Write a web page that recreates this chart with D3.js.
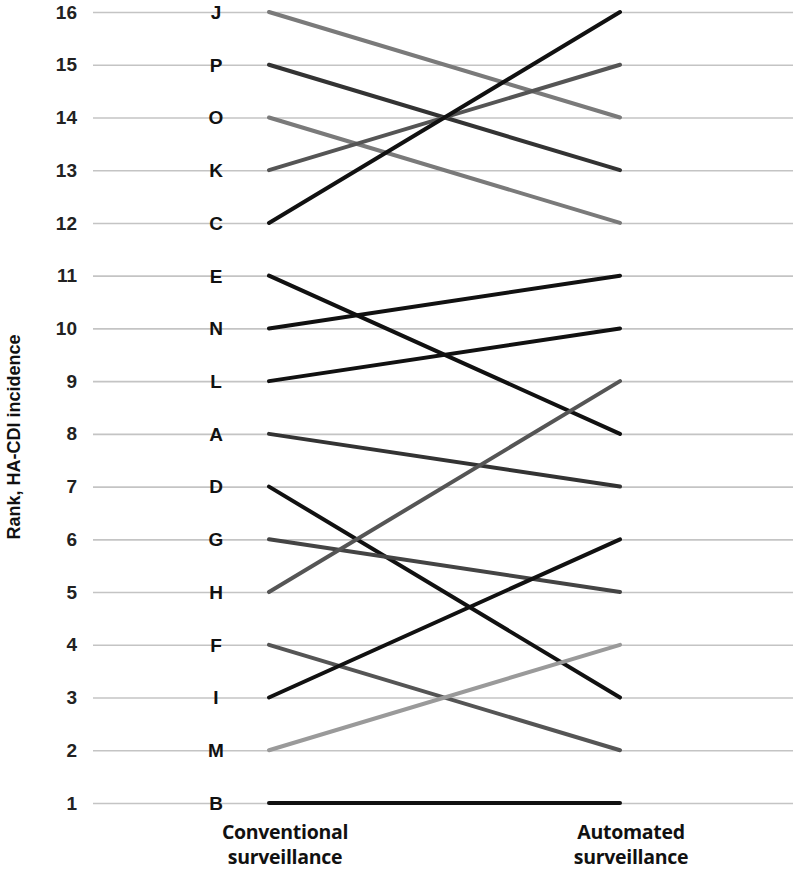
<!DOCTYPE html>
<html>
<head>
<meta charset="utf-8">
<script src="https://cdn.jsdelivr.net/npm/d3@7"></script>
<style>
  body { margin: 0; background: #fff; }
  .tick text { font-family: "Liberation Sans", Arial, sans-serif; font-weight: bold; }
  .lbl { font-family: "Open Sans", sans-serif; font-weight: bold; }
</style>
</head>
<body>
<script>
// units, ranked under the two methods
const units = ['J', 'P', 'O', 'K', 'C', 'E', 'N', 'L', 'A', 'D', 'G', 'H', 'F', 'I', 'M', 'B'];
const rankConventional = [16, 15, 14, 13, 12, 11, 10, 9, 8, 7, 6, 5, 4, 3, 2, 1];
const rankAutomated = [14, 13, 12, 15, 16, 8, 11, 10, 7, 3, 5, 9, 2, 6, 4, 1];
const lineShade = ['#7a7a7a', '#333', '#7a7a7a', '#555', '#111', '#111', '#111', '#111', '#333', '#111', '#444', '#555', '#555', '#111', '#9a9a9a', '#111'];
const methods = ['Conventional surveillance', 'Automated surveillance'];
const rankTicks = d3.range(1, 17);

const W = 793, H = 869;
const svg = d3.select('body').append('svg')
  .attr('width', W).attr('height', H);

// y scale: rank 16 on top
const y = d3.scaleLinear().domain([1, 16]).range([803, 12]);
const x = d3.scalePoint().domain(methods).range([269, 620]);

// gridlines
svg.append('g')
  .attr('transform', 'translate(93,0)')
  .call(d3.axisLeft(y).tickValues(rankTicks).tickFormat(d3.format('d'))
    .tickSize(-(W - 93)).tickPadding(16))
  .call(g => g.select('.domain').remove())
  .call(g => g.selectAll('.tick line').attr('stroke', '#c4c4c4').attr('stroke-width', 1.6))
  .call(g => g.selectAll('.tick text').style('font-size', '19px').attr('fill', '#222'));

// unit letters
svg.append('g').selectAll('text')
  .data(units)
  .join('text')
  .attr('x', 216)
  .attr('y', (d, i) => y(rankConventional[i]))
  .attr('dy', '0.36em')
  .attr('text-anchor', 'middle')
  .style('font-family', '"Liberation Sans", Arial, sans-serif')
  .style('font-weight', 'bold')
  .style('font-size', '19px')
  .attr('fill', '#111')
  .text(d => d);

// slope lines
svg.append('g').selectAll('line')
  .data(units)
  .join('line')
  .attr('x1', x(methods[0]))
  .attr('x2', x(methods[1]))
  .attr('y1', (d, i) => y(rankConventional[i]))
  .attr('y2', (d, i) => y(rankAutomated[i]))
  .attr('stroke', (d, i) => lineShade[i])
  .attr('stroke-width', 4)
  .attr('stroke-linecap', 'round');

// method labels
const mlab = svg.append('g').selectAll('text')
  .data(methods)
  .join('text')
  .attr('class', 'lbl')
  .attr('x', (d, i) => i === 0 ? 285 : 631)
  .attr('y', 839)
  .attr('text-anchor', 'middle')
  .style('font-size', '19.5px')
  .style('letter-spacing', '-0.3px')
  .attr('fill', '#111');
mlab.each(function(d) {
  const parts = d.split(' ');
  const t = d3.select(this);
  t.append('tspan').attr('x', t.attr('x')).attr('dy', 0).text(parts[0]);
  t.append('tspan').attr('x', t.attr('x')).attr('dy', '1.3em').text(parts[1]);
});

// y axis title
svg.append('text')
  .attr('transform', 'translate(20,' + 437 + ') rotate(-90)')
  .attr('text-anchor', 'middle')
  .style('font-family', '"Liberation Sans", Arial, sans-serif')
  .style('font-weight', 'bold')
  .style('font-size', '18px')
  .attr('fill', '#111')
  .text('Rank, HA-CDI incidence');
</script>
</body>
</html>
